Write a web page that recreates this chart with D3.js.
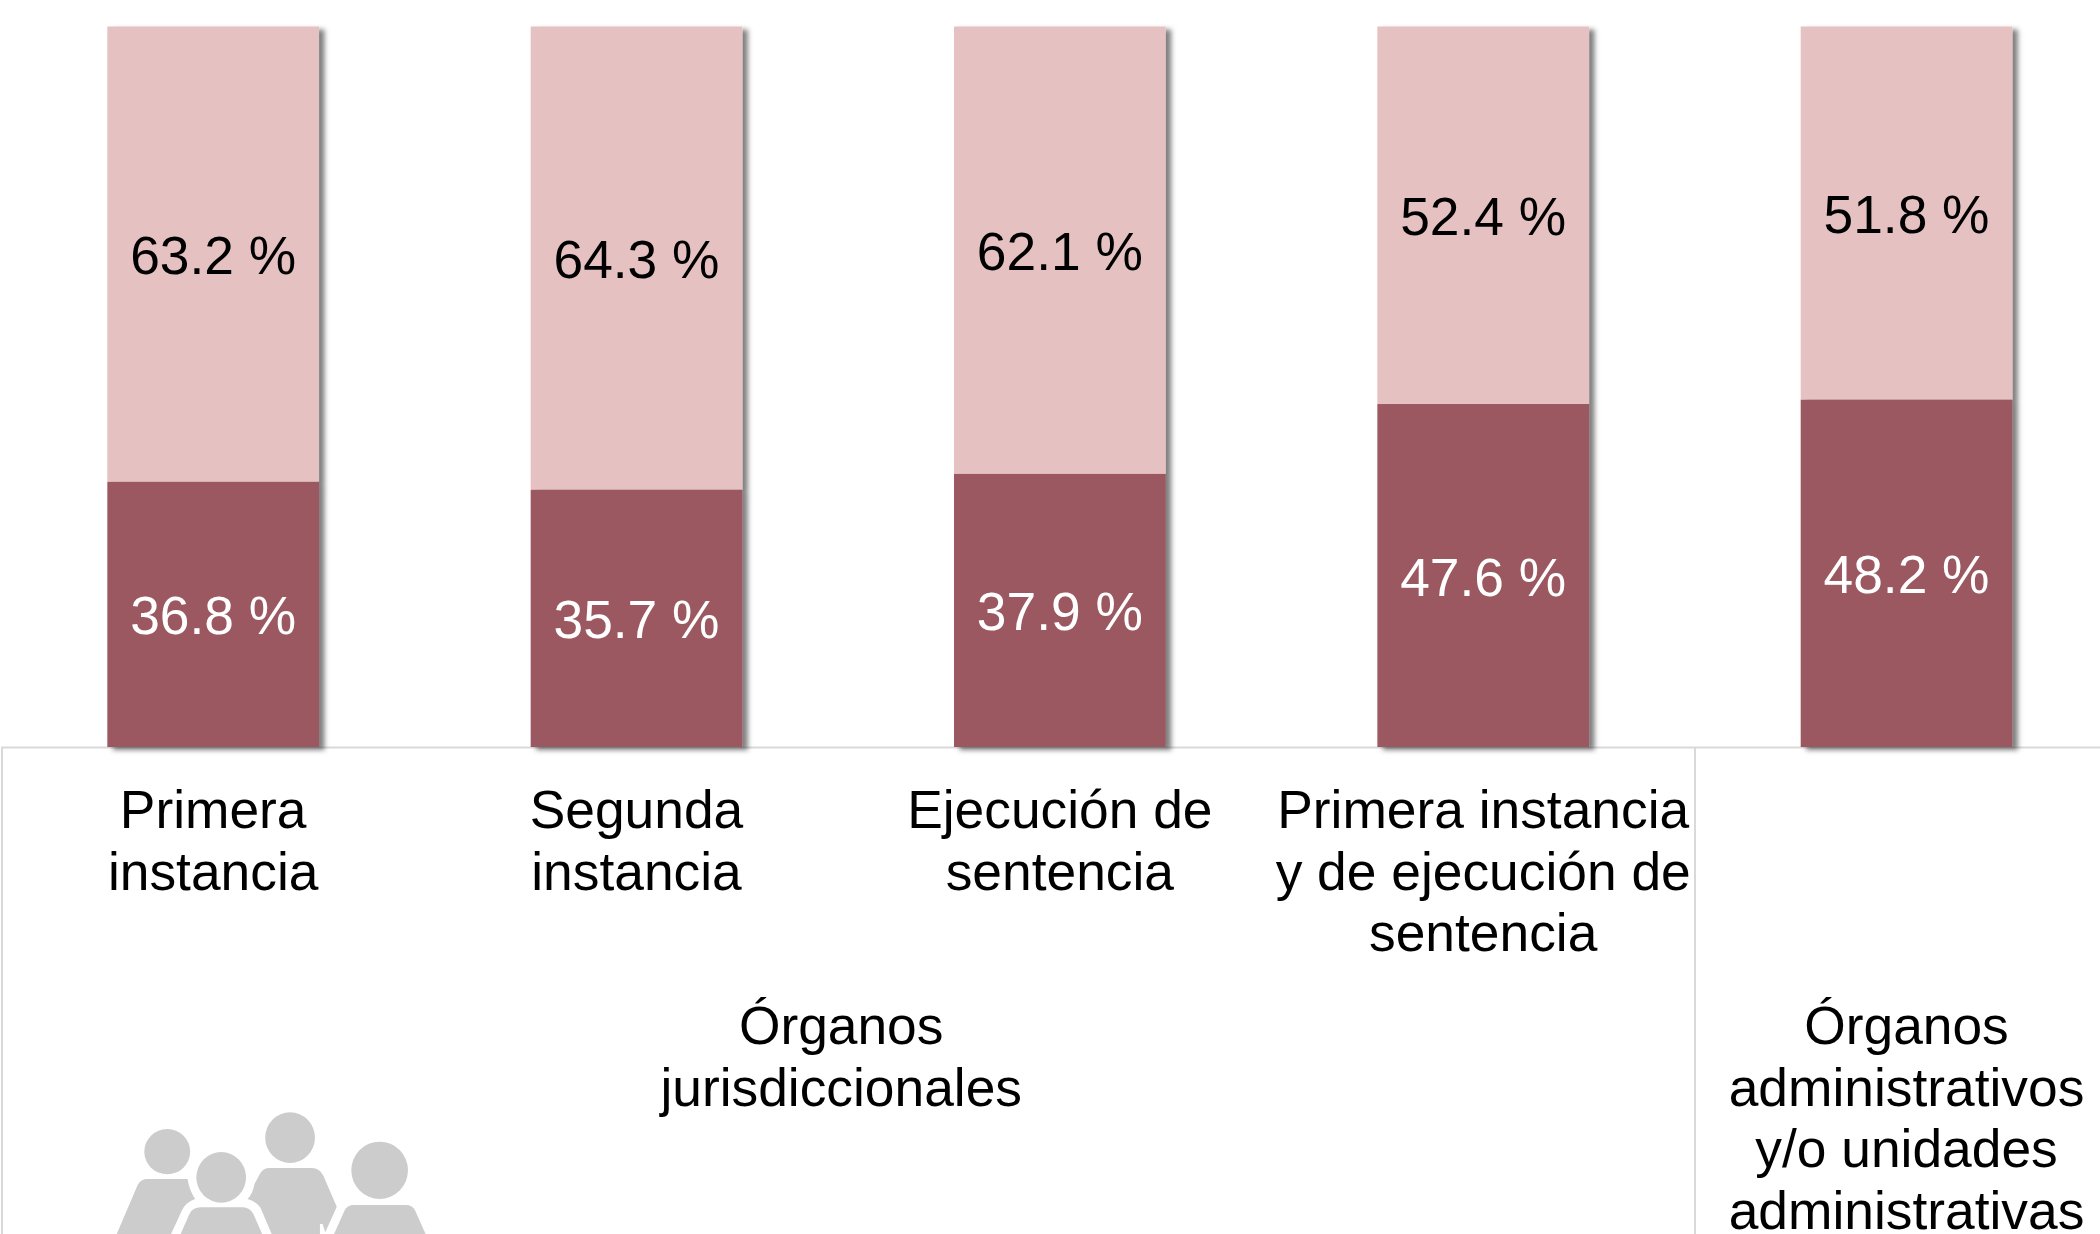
<!DOCTYPE html>
<html><head><meta charset="utf-8">
<script src="https://cdn.jsdelivr.net/npm/d3@7/dist/d3.min.js"></script>
<style>html,body{margin:0;padding:0;background:#fff;overflow:hidden}svg{display:block}text{font-family:"Liberation Sans",Arial,sans-serif;font-size:53.33px}</style>
</head><body><svg id="c" width="2100" height="1234"></svg>
<script>
const categories = ["Primera instancia","Segunda instancia","Ejecución de sentencia","Primera instancia y de ejecución de sentencia","Órganos administrativos"];
const categoryLines = [["Primera","instancia"],["Segunda","instancia"],["Ejecución de","sentencia"],["Primera instancia","y de ejecución de","sentencia"],[]];
const darkValues = [36.8,35.7,37.9,47.6,48.2];
const lightValues = [63.2,64.3,62.1,52.4,51.8];
const groupLabels = [["Órganos","jurisdiccionales"],["Órganos","administrativos","y/o unidades","administrativas"]];
const groupSpans = [[0,3],[4,4]];
const groupNudge = [-7,0];

const svg = d3.select("#c");
const x = d3.scaleBand().domain(categories).range([1.5,2118.2]).paddingInner(0.5).paddingOuter(0.25);
const y = d3.scaleLinear().domain([0,100]).range([747,26.5]);
const fs = 61.5;

const defs = svg.append("defs");
const f = defs.append("filter").attr("id","sh").attr("x","-10%").attr("y","-5%").attr("width","120%").attr("height","110%");
f.append("feDropShadow").attr("dx",5.5).attr("dy",3).attr("stdDeviation",2.6).attr("flood-color","#000").attr("flood-opacity",0.5);

// frame
const frame = svg.append("g").attr("stroke","#d9d9d9").attr("stroke-width",2);
frame.append("line").attr("x1",1).attr("x2",2100).attr("y1",747.5).attr("y2",747.5);
frame.append("line").attr("x1",2).attr("x2",2).attr("y1",747).attr("y2",1234);
frame.append("line").attr("x1",1695).attr("x2",1695).attr("y1",747).attr("y2",1234);

// bars
const bars = svg.append("g").selectAll("g").data(categories).join("g").attr("filter","url(#sh)");
bars.append("rect").attr("x",d=>x(d)).attr("width",x.bandwidth())
  .attr("y",(d,i)=>y(darkValues[i]+lightValues[i])).attr("height",(d,i)=>y(darkValues[i])-y(darkValues[i]+lightValues[i])).attr("fill","#e5c2c1");
bars.append("rect").attr("x",d=>x(d)).attr("width",x.bandwidth())
  .attr("y",(d,i)=>y(darkValues[i])).attr("height",(d,i)=>y(0)-y(darkValues[i])).attr("fill","#9b5860");

// value labels
const cx = d=>x(d)+x.bandwidth()/2;
svg.append("g").selectAll("text").data(categories).join("text").attr("text-anchor","middle").attr("x",cx)
  .attr("y",(d,i)=>y(darkValues[i]/2)+20).attr("fill","#fff").text((d,i)=>darkValues[i].toFixed(1)+" %");
svg.append("g").selectAll("text").data(categories).join("text").attr("text-anchor","middle").attr("x",cx)
  .attr("y",(d,i)=>y(darkValues[i]+lightValues[i]/2)+20).attr("fill","#000").text((d,i)=>lightValues[i].toFixed(1)+" %");

// category labels
categories.forEach((c,i)=>{
  categoryLines[i].forEach((t,j)=>{
    svg.append("text").attr("text-anchor","middle").attr("x",cx(c)).attr("y",828+j*fs).attr("fill","#000").text(t);
  });
});
// group labels
groupLabels.forEach((ls,g)=>{
  const gx=(cx(categories[groupSpans[g][0]])+cx(categories[groupSpans[g][1]]))/2+groupNudge[g];
  ls.forEach((t,j)=>{
    svg.append("text").attr("text-anchor","middle").attr("x",gx).attr("y",1044+j*fs).attr("fill","#000").text(t);
  });
});

// people icon
const icon = svg.append("g").attr("transform","translate(0,1034) scale(0.3827,0.3333)").attr("fill","#cccccc");
[[437,353,60,68],[578,430,65,76],[758,311,65,76],[992,409,74,86]].forEach(h=>{
  icon.append("ellipse").attr("cx",h[0]).attr("cy",h[1]).attr("rx",h[2]).attr("ry",h[3]);
});
["M305,600L360,452Q368,435 385,435L490,435Q495,470 510,495Q485,505 475,530L447,600Z",
 "M472,600L495,540Q503,520 525,520L635,520Q652,520 662,540L685,600Z",
 "M710,600L680,520Q670,503 647,495Q660,480 665,450L680,418Q688,402 705,402L815,402Q835,402 845,425L880,518L850,595L843,570L836,570L836,600Z",
 "M873,600L900,530Q907,513 925,513L1060,513Q1078,513 1085,530L1112,600Z"].forEach(p=>icon.append("path").attr("d",p));
</script></body></html>
